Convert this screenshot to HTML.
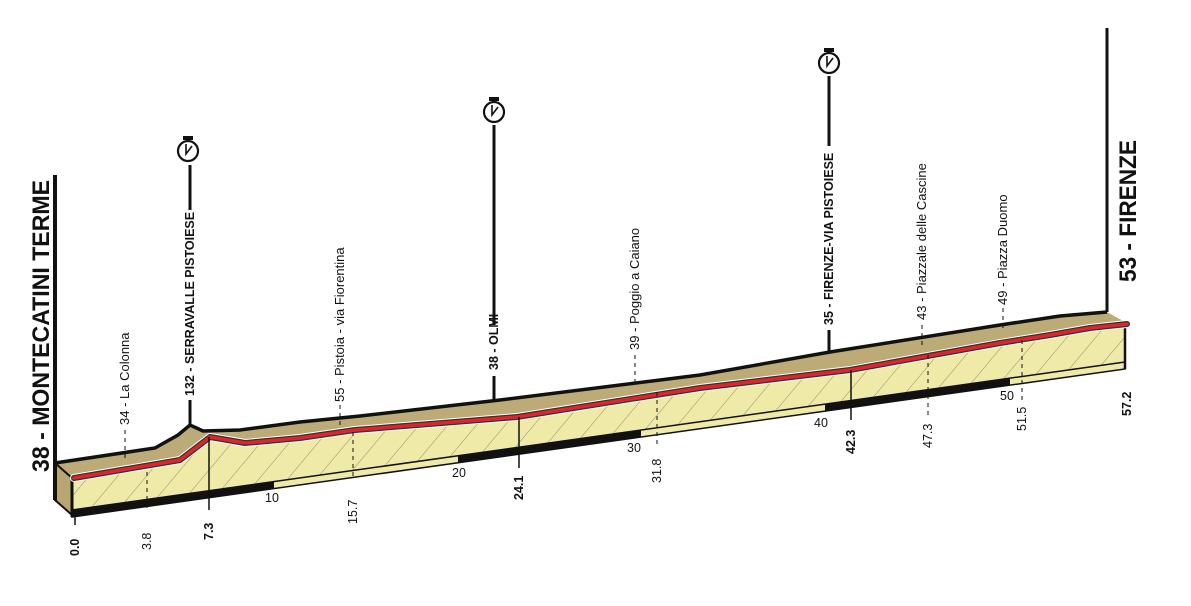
<!DOCTYPE html>
<html><head><meta charset="utf-8"><style>
html,body{margin:0;padding:0;background:#fff;}
svg{display:block}
text{font-family:"Liberation Sans",sans-serif;fill:#111}
.b{font-weight:bold}
</style></head><body>
<svg width="1191" height="606" viewBox="0 0 1191 606" xmlns="http://www.w3.org/2000/svg">
<defs>
<pattern id="h" width="22" height="22" patternUnits="userSpaceOnUse" patternTransform="rotate(40)">
<rect width="22" height="22" fill="#efeaa8"/>
<line x1="0" y1="0" x2="0" y2="22" stroke="#8a8560" stroke-width="0.9"/>
</pattern>
</defs>
<path d="M55,463 L155,448 L178,435 L190,425 L203,431 L240,430 L300,422 L360,416 L500,400 L700,375 L830,352 L1000,325 L1060,316 L1107,312 L1125,322 L1090,328 L1050,335 L1000,343 L850,370 L700,388 L517,417 L355,430 L300,438 L245,443 L210,437 L180,460 L72,478 Z" fill="#bcab76"/>
<path d="M55,463 L155,448 L178,435 L190,425 L203,431 L240,430 L300,422 L360,416 L500,400 L700,375 L830,352 L1000,325 L1060,316 L1107,312" fill="none" stroke="#111" stroke-width="3.5"/>
<polygon points="55,463 72,478 72,515 55,500" fill="#b7a672" stroke="#111" stroke-width="2"/>
<line x1="55" y1="175" x2="55" y2="500" stroke="#111" stroke-width="4"/>
<path d="M72,478 L180,460 L210,437 L245,443 L300,438 L355,430 L517,417 L700,388 L850,370 L1000,343 L1050,335 L1090,328 L1125,324 L1125,362 L72,510 Z" fill="url(#h)"/>
<polygon points="72,510 1125,362 1125,369 72,517" fill="#efeaa8" stroke="#111" stroke-width="1.5"/>
<polygon points="72,510 274,481.6 274,488.6 72,517" fill="#111"/>
<polygon points="458,455.8 641,430 641,437 458,462.8" fill="#111"/>
<polygon points="825,404.2 1010,378.2 1010,385.2 825,411.2" fill="#111"/>
<line x1="72" y1="478" x2="72" y2="517" stroke="#111" stroke-width="3"/>
<line x1="1125" y1="324" x2="1125" y2="369" stroke="#111" stroke-width="2.5"/>
<path d="M74,478 L180,460 L210,437 L245,443 L300,438 L355,430 L517,417 L700,388 L850,370 L1000,343 L1050,335 L1090,328 L1127,324" fill="none" stroke="#fff" stroke-width="8" stroke-linejoin="round" stroke-linecap="round"/>
<path d="M74,478 L180,460 L210,437 L245,443 L300,438 L355,430 L517,417 L700,388 L850,370 L1000,343 L1050,335 L1090,328 L1127,324" fill="none" stroke="#333" stroke-width="6" stroke-linejoin="round" stroke-linecap="round"/>
<path d="M74,478 L180,460 L210,437 L245,443 L300,438 L355,430 L517,417 L700,388 L850,370 L1000,343 L1050,335 L1090,328 L1127,324" fill="none" stroke="#e0242a" stroke-width="3.5" stroke-linejoin="round" stroke-linecap="round"/>
<g stroke="#111" stroke-width="3">
<line x1="190" y1="165" x2="190" y2="210"/><line x1="190" y1="400" x2="190" y2="425"/>
<line x1="494" y1="125" x2="494" y2="325"/><line x1="494" y1="376" x2="494" y2="400"/>
<line x1="829" y1="76" x2="829" y2="146"/><line x1="829" y1="330" x2="829" y2="351"/>
<line x1="1107" y1="28" x2="1107" y2="312"/>
</g>
<g stroke="#111" stroke-width="1.5">
<line x1="209" y1="437" x2="209" y2="510"/>
<line x1="519" y1="417" x2="519" y2="468"/>
<line x1="851" y1="370" x2="851" y2="420"/>
<line x1="75" y1="515" x2="75" y2="525"/>
</g>
<g stroke="#111" stroke-width="1" stroke-dasharray="4,4">
<line x1="125" y1="430" x2="125" y2="458"/>
<line x1="340" y1="405" x2="340" y2="425"/>
<line x1="635" y1="355" x2="635" y2="385"/>
<line x1="922" y1="325" x2="922" y2="345"/>
<line x1="1003" y1="308" x2="1003" y2="330"/>
<line x1="147" y1="472" x2="147" y2="512"/>
<line x1="353" y1="432" x2="353" y2="480"/>
<line x1="657" y1="392" x2="657" y2="445"/>
<line x1="928" y1="355" x2="928" y2="415"/>
<line x1="1022" y1="340" x2="1022" y2="400"/>
</g>
<g fill="none" stroke="#111" stroke-width="2.2">
<circle cx="188" cy="151" r="10"/><circle cx="494" cy="112" r="10"/><circle cx="829" cy="63" r="10"/>
</g>
<g fill="#111">
<rect x="183" y="136" width="10" height="4"/><rect x="489" y="97" width="10" height="4"/><rect x="824" y="48" width="10" height="4"/>
</g>
<g stroke="#111" stroke-width="1.6" fill="none">
<path d="M186,144 L186,154 L192,146"/><path d="M492,105 L492,115 L498,107"/><path d="M827,56 L827,66 L833,58"/>
</g>
<g font-size="12.5">
<text x="265" y="502">10</text>
<text x="452" y="477">20</text>
<text x="627" y="452">30</text>
<text x="814" y="427">40</text>
<text x="1000" y="400">50</text>
</g>
<g font-size="12.5">
<text class="b" transform="translate(79,556) rotate(-90)">0.0</text>
<text transform="translate(151,550) rotate(-90)">3.8</text>
<text class="b" transform="translate(213,540) rotate(-90)">7.3</text>
<text transform="translate(357,524) rotate(-90)">15.7</text>
<text class="b" transform="translate(523,500) rotate(-90)">24.1</text>
<text transform="translate(661,483) rotate(-90)">31.8</text>
<text class="b" transform="translate(855,454) rotate(-90)">42.3</text>
<text transform="translate(932,448) rotate(-90)">47.3</text>
<text transform="translate(1026,431) rotate(-90)">51.5</text>
<text class="b" transform="translate(1131,416) rotate(-90)">57.2</text>
</g>
<g font-size="13">
<text transform="translate(129,425) rotate(-90)">34 - La Colonna</text>
<text class="b" font-size="12.5" transform="translate(194,396) rotate(-90)">132 - SERRAVALLE PISTOIESE</text>
<text transform="translate(344,402) rotate(-90)">55 - Pistoia - via Fiorentina</text>
<text class="b" font-size="12.5" transform="translate(498,370) rotate(-90)">38 - OLMI</text>
<text transform="translate(639,350) rotate(-90)">39 - Poggio a Caiano</text>
<text class="b" font-size="12.5" transform="translate(833,325) rotate(-90)">35 - FIRENZE-VIA PISTOIESE</text>
<text transform="translate(926,320) rotate(-90)">43 - Piazzale delle Cascine</text>
<text transform="translate(1007,305) rotate(-90)">49 - Piazza Duomo</text>
</g>
<text class="b" font-size="24" transform="translate(49,472) rotate(-90)" textLength="292" lengthAdjust="spacingAndGlyphs">38 - MONTECATINI TERME</text>
<text class="b" font-size="24" transform="translate(1136,282) rotate(-90)" textLength="142" lengthAdjust="spacingAndGlyphs">53 - FIRENZE</text>
</svg>
</body></html>
